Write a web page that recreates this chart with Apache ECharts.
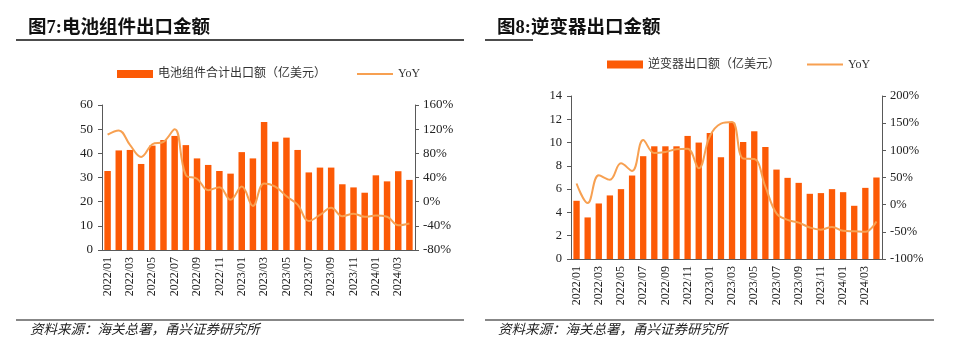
<!DOCTYPE html>
<html>
<head>
<meta charset="utf-8">
<script src="https://cdn.jsdelivr.net/npm/echarts@6/dist/echarts.min.js"></script>
<style>
  html, body { margin: 0; padding: 0; background: #fff; }
  #main { width: 954px; height: 350px; }
</style>
</head>
<body>
<div id="main"></div>
<script>
var months = ["2022/01","2022/02","2022/03","2022/04","2022/05","2022/06","2022/07","2022/08","2022/09","2022/10","2022/11","2022/12",
  "2023/01","2023/02","2023/03","2023/04","2023/05","2023/06","2023/07","2023/08","2023/09","2023/10","2023/11","2023/12",
  "2024/01","2024/02","2024/03","2024/04"];

// 图7 电池组件合计出口额（亿美元）与同比
var moduleExport = [32.7, 41.2, 41.4, 35.6, 43.2, 45.5, 47.2, 43.4, 37.9, 35.2, 32.7, 31.6,
  40.5, 37.9, 53.0, 44.8, 46.5, 41.4, 32.1, 34.1, 34.1, 27.2, 25.9, 23.7,
  30.9, 28.4, 32.6, 29.0];
var moduleYoY = [111, 118, 94, 74, 95, 99, 120, 44, 38, 19, 24, 3,
  25, -7, 30, 25, 9, -5, -32, -22, -10, -24, -20, -25,
  -23, -25, -39, -36];

// 图8 逆变器出口额（亿美元）与同比
var inverterExport = [5.0, 3.57, 4.77, 5.46, 6.0, 7.17, 8.83, 9.68, 9.68, 9.68, 10.57, 10.0,
  10.82, 8.74, 11.71, 10.05, 10.97, 9.62, 7.68, 6.97, 6.54, 5.6, 5.66, 6.0,
  5.74, 4.57, 6.11, 7.0];
var inverterYoY = [39, 3, 54, 46, 76, 62, 119, 95, 97, 102, 103, 67,
  126, 149, 152, 85, 84, 33, -16, -28, -33, -42, -46, -41,
  -48, -49, -50, -31];

var barColor = "#FC5A06";
var lineColor = "#F7A051";
var axisColor = "#595959";
var serif = "Liberation Serif, Noto Sans CJK SC";

function yAxis(grid, min, max, step, pos, pct, size) {
  return {
    type: "value",
    gridIndex: grid,
    position: pos,
    min: min, max: max, interval: step,
    splitLine: { show: false },
    axisLine: { show: true, lineStyle: { color: axisColor } },
    axisTick: { show: true, length: 4, lineStyle: { color: axisColor } },
    axisLabel: {
      color: "#222", fontFamily: serif, fontSize: size, margin: pos == "left" ? 9 : 8,
      formatter: pct ? "{value}%" : "{value}"
    }
  };
}

function xAxis(grid, size) {
  return {
    type: "category",
    gridIndex: grid,
    data: months,
    axisLine: { lineStyle: { color: axisColor } },
    axisTick: { interval: 1, length: 4, lineStyle: { color: axisColor } },
    axisLabel: { interval: 1, rotate: 90, color: "#222", fontFamily: serif, fontSize: size, margin: 7 }
  };
}

var myChart = echarts.init(document.getElementById("main"));
var option = {
  animation: false,
  color: [barColor, lineColor],
  grid: [
    { left: 102, top: 105, width: 313, height: 145 },
    { left: 571, top: 96, width: 311, height: 163 }
  ],
  legend: [
    {
      left: 117, top: 68, padding: 0, itemWidth: 36, itemHeight: 8, itemGap: 31,
      textStyle: { fontFamily: serif, fontSize: 12, color: "#333" },
      data: [
        { name: "电池组件合计出口额（亿美元）", icon: "rect" },
        { name: "YoY", icon: "path://M0,0 L36,0 L36,2 L0,2 Z" }
      ]
    },
    {
      left: 607, top: 58.5, padding: 0, itemWidth: 36, itemHeight: 8, itemGap: 27,
      textStyle: { fontFamily: serif, fontSize: 12, color: "#333" },
      data: [
        { name: "逆变器出口额（亿美元）", icon: "rect" },
        { name: "YoY ", icon: "path://M0,0 L36,0 L36,2 L0,2 Z" }
      ]
    }
  ],
  xAxis: [xAxis(0, 12), xAxis(1, 12)],
  yAxis: [
    yAxis(0, 0, 60, 10, "left", false, 13),
    yAxis(0, -80, 160, 40, "right", true, 13),
    yAxis(1, 0, 14, 2, "left", false, 12.5),
    yAxis(1, -100, 200, 50, "right", true, 12.5)
  ],
  series: [
    {
      name: "电池组件合计出口额（亿美元）", type: "bar",
      xAxisIndex: 0, yAxisIndex: 0, barWidth: "58%",
      itemStyle: { color: barColor }, data: moduleExport
    },
    {
      name: "YoY", type: "line", smooth: 0.4, symbol: "none",
      xAxisIndex: 0, yAxisIndex: 1,
      lineStyle: { color: lineColor, width: 2 }, itemStyle: { color: lineColor },
      data: moduleYoY
    },
    {
      name: "逆变器出口额（亿美元）", type: "bar",
      xAxisIndex: 1, yAxisIndex: 2, barWidth: "57%",
      itemStyle: { color: barColor }, data: inverterExport
    },
    {
      name: "YoY ", type: "line", smooth: 0.4, symbol: "none",
      xAxisIndex: 1, yAxisIndex: 3,
      lineStyle: { color: lineColor, width: 2 }, itemStyle: { color: lineColor },
      data: inverterYoY
    }
  ],
  graphic: [
    { type: "text", left: 28, top: 19, style: { text: "图7:电池组件出口金额", font: "bold 18.5px " + serif, fill: "#111" } },
    { type: "line", shape: { x1: 16, y1: 40, x2: 464, y2: 40 }, style: { stroke: "#111", lineWidth: 1.5 } },
    { type: "text", left: 497, top: 19, style: { text: "图8:逆变器出口金额", font: "bold 18.5px " + serif, fill: "#111" } },
    { type: "line", shape: { x1: 485, y1: 40, x2: 533, y2: 40 }, style: { stroke: "#111", lineWidth: 1.5 } },
    { type: "line", shape: { x1: 16, y1: 320, x2: 464, y2: 320 }, style: { stroke: "#111", lineWidth: 1.2 } },
    { type: "line", shape: { x1: 485, y1: 320, x2: 934, y2: 320 }, style: { stroke: "#111", lineWidth: 1.2 } },
    { type: "text", left: 30, top: 324, style: { text: "资料来源：海关总署，甬兴证券研究所", font: "italic 13.5px " + serif, fill: "#222" } },
    { type: "text", left: 498, top: 324, style: { text: "资料来源：海关总署，甬兴证券研究所", font: "italic 13.5px " + serif, fill: "#222" } }
  ]
};
myChart.setOption(option);
</script>
</body>
</html>
